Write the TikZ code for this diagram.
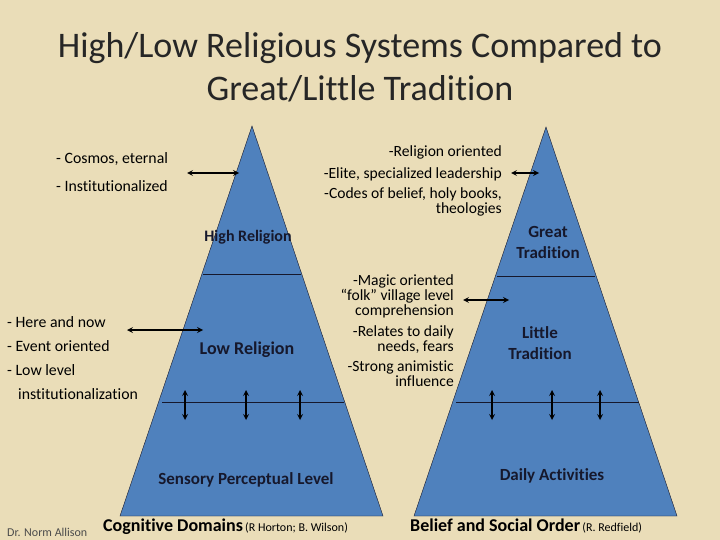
\documentclass[tikz,border=0pt]{standalone}
\usepackage{fontspec}
\setmainfont{Carlito}[Ligatures={NoCommon}]
\usepackage{tikz}
\usetikzlibrary{positioning, arrows}
\definecolor{parch}{RGB}{234,221,184}
\definecolor{pyr}{RGB}{79,129,189}
\definecolor{ink}{RGB}{22,24,44}

\begin{document}
\begin{tikzpicture}[x=1pt,y=-1pt,inner sep=0pt,
  txt/.style={font={\fontsize{15.6}{12}\selectfont\lineskiplimit=-20pt},text=black},
  lbl/.style={font=\bfseries\fontsize{17}{21}\selectfont,text=ink,align=center},
  dbl/.style={<->,>=stealth,line width=1.6pt}]
      \fill[parch] (0,0) rectangle (720,540);
      \filldraw[fill=pyr,draw=ink,thin] (252,126) -- (383,516) -- (120,516) -- cycle;
      \filldraw[fill=pyr,draw=ink,thin] (546,127) -- (677,516) -- (414,516) -- cycle;
      \draw[ink,thin] (203,274) -- (301,274) (162,402) -- (344,402);
      \draw[ink,thin] (497,276) -- (595,276) (456,402) -- (639,402);
      \node[align=center,font=\fontsize{36}{43}\selectfont,text=black!85] (title) at (360,67) {High/Low Religious Systems Compared to\\Great/Little Tradition};
      \node[txt,anchor=west,align=left,font=\fontsize{15.8}{28}\selectfont] (q_1) at (56,172) {- Cosmos, eternal\\- Institutionalized};
      \node[txt,anchor=east,align=right] (q_2) at (502,181) {-Religion oriented\\[10pt]-Elite, specialized leadership\\[8pt]-Codes of belief, holy books,\\[3pt]theologies};
      \node[txt,anchor=west,align=left,font=\fontsize{15.8}{24}\selectfont] (q_3) at (7,358) {- Here and now\\- Event oriented\\- Low level\\\hspace{11pt}institutionalization};
      \node[txt,anchor=east,align=right] (q_4) at (454,331) {-Magic oriented\\[3pt]``folk'' village level\\[3pt]comprehension\\[9pt]-Relates to daily\\[3pt]needs, fears\\[8pt]-Strong animistic\\[3pt]influence};
      \node[lbl,font=\bfseries\fontsize{16}{21}\selectfont] (hr) at (248,237) {High Religion};
      \node[lbl] (gt) at (548,242) {Great\\Tradition};
      \node[lbl,font=\bfseries\fontsize{18}{21}\selectfont] (lr) at (247,350) {Low Religion};
      \node[lbl] (lt) at (540,343) {Little\\Tradition};
      \node[lbl] (sp) at (246,480) {Sensory Perceptual Level};
      \node[lbl] (da) at (552,476) {Daily Activities};
      \node[anchor=base west,text=black] (cd) at (103,531) {{\bfseries\fontsize{18}{18}\selectfont Cognitive Domains} {\fontsize{12}{12}\selectfont (R Horton; B. Wilson)}};
      \node[anchor=base west,text=black] (bs) at (410,531) {{\bfseries\fontsize{18}{18}\selectfont Belief and Social Order} {\fontsize{12}{12}\selectfont (R. Redfield)}};
      \node[anchor=base west,text=black!70,font=\fontsize{12}{12}\selectfont] (na) at (7,536) {Dr. Norm Allison};
      \coordinate (a_1) at (187,173); \coordinate (b_1) at (239,173);
      \coordinate (a_2) at (511,173); \coordinate (b_2) at (539,173);
      \coordinate (a_3) at (127,330); \coordinate (b_3) at (203,330);
      \coordinate (a_4) at (463,300); \coordinate (b_4) at (509,300);
      \foreach \i in {1,...,4} \draw[dbl] (a_\i) -- (b_\i);
      \foreach \x in {185,246,300,492,552,600} {
        \coordinate (u\x) at (\x,390); \coordinate (d\x) at (\x,420);
        \draw[dbl] (u\x) -- (d\x);
      }
    \end{tikzpicture}
\end{document}
